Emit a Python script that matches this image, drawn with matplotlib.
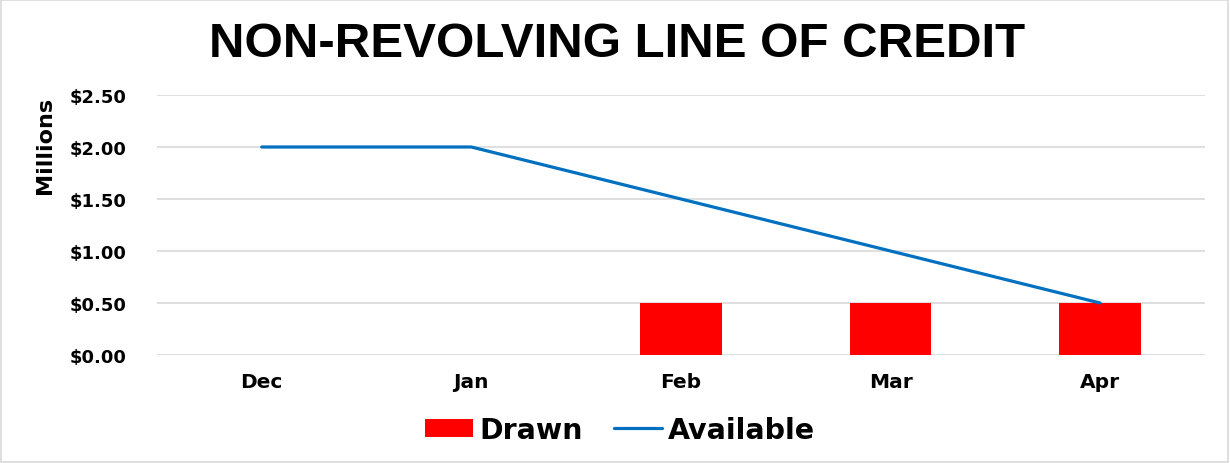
import matplotlib.pyplot as plt
import matplotlib.ticker as mticker
import numpy as np

months = ["Dec", "Jan", "Feb", "Mar", "Apr"]
drawn = [0.0, 0.0, 0.5, 0.5, 0.5]
available = [2.0, 2.0, 1.5, 1.0, 0.5]

plt.rcParams['font.family'] = ['DejaVu Sans']
plt.rcParams['font.weight'] = 'bold'

fig = plt.figure(figsize=(12.3, 4.64), dpi=100)
ax = fig.add_axes([0.1276, 0.2328, 0.852, 0.5603])

x = np.arange(len(months))
bars = ax.bar(x, drawn, width=0.39, color='#FF0000', label='Drawn', zorder=2)
line, = ax.plot(x, available, color='#0070C0', linewidth=2.3, solid_capstyle='round',
                label='Available', zorder=3)

ax.set_xlim(-0.5, len(months) - 0.5)
ax.set_ylim(0, 2.5)
ax.yaxis.set_major_locator(mticker.MultipleLocator(0.5))
ax.yaxis.set_major_formatter(mticker.FuncFormatter(lambda v, p: f'${v:.2f}'))
ax.yaxis.grid(True, color='#D9D9D9', linewidth=1.2, zorder=0)
ax.set_axisbelow(True)
for s in ax.spines.values():
    s.set_visible(False)
ax.tick_params(axis='y', length=0, labelsize=13, pad=22)
ax.tick_params(axis='x', length=0, labelsize=14.5, pad=12)
ax.set_xticks(x)
ax.set_xticklabels(months, fontweight='bold')
for t in ax.get_yticklabels():
    t.set_fontweight('bold')
ax.set_ylabel('Millions', fontsize=16, fontweight='bold')
ax.yaxis.set_label_coords(-0.097, 0.81)

fig.text(0.502, 0.905, 'NON-REVOLVING LINE OF CREDIT', ha='center', va='center',
         fontsize=35.5, fontweight='bold', family='Liberation Sans')

leg = fig.legend([bars, line], ['Drawn', 'Available'], loc='center',
                 bbox_to_anchor=(0.504, 0.072), ncol=2, frameon=False,
                 prop={'size': 20.5, 'weight': 'bold'}, handlelength=1.7,
                 handleheight=0.6, columnspacing=1.1, handletextpad=0.2)

fig.patches.append(plt.Rectangle((0.001, 0.002), 0.997, 0.995, transform=fig.transFigure,
                                 fill=False, edgecolor='#D9D9D9', linewidth=1.2))

plt.savefig('out.png', dpi=100)
